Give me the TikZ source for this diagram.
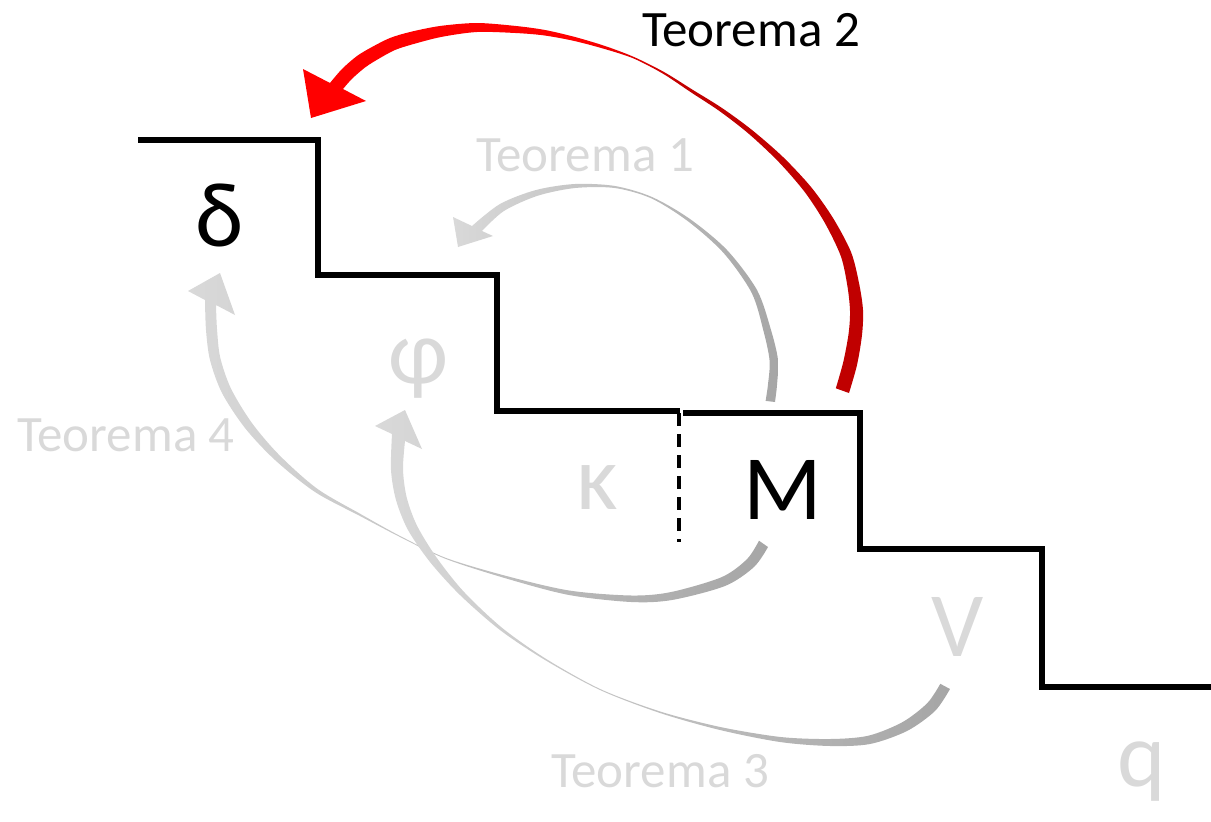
\documentclass[tikz,border=0pt]{standalone}
\usepackage{tikz}
\usepackage{fontspec}
\setmainfont{Carlito}
\definecolor{headred}{HTML}{FF0000}
\definecolor{tailred}{HTML}{C00000}
\definecolor{lightg}{HTML}{D9D9D9}
\definecolor{darkg}{HTML}{A6A6A6}
\pgfdeclarehorizontalshading{redarc}{100bp}{color(0bp)=(headred); color(50bp)=(headred); color(59bp)=(tailred); color(100bp)=(tailred)}
\tikzset{
  tlab/.style={font=\fontsize{51}{51}\selectfont, inner sep=0pt},
  biglet/.style={font=\fontsize{92}{92}\selectfont, inner sep=0pt},
  stair/.style={line width=5.5pt, line join=miter},
  cut/.style={line width=3.5pt, dash pattern=on 13pt off 8pt},
  redshade/.style={shading=redarc},
  grayshade/.style={left color=lightg, right color=darkg},
}
\begin{document}
\begin{tikzpicture}[x=1pt,y=-1pt]
\useasboundingbox (0,0) rectangle (1211,822);

% staircase
\draw[stair] (138,140) -- (318,140) -- (318,275) -- (497,275) -- (497,411) -- (680,411);
\draw[stair] (683,413) -- (860,413) -- (860,549) -- (1042,549) -- (1042,687) -- (1211,687);
\coordinate (cuttop) at (679,413);
\coordinate (cutbot) at (679,542);
\draw[cut] (cuttop) -- (cutbot);

% Teorema 2 (red)
\shade[redshade]
 plot[smooth] coordinates {(330,83) (342,69) (357,56) (372,47) (390,38) (410,32) (440,26) (477,23) (516,26) (545,30) (575,37) (605,46) (634,57) (664,72) (693,90) (722,108) (752,130) (783,157) (811,187) (833,218) (851,252) (859,283) (863,310) (862,335) (857,365) (849,393)}
 -- (835.8,388.3)
 -- plot[smooth] coordinates {(835.8,388.3) (843.3,361.9) (848.6,333.5) (850,310.8) (847.3,285.4) (840.8,256.1) (824.9,223) (804.8,192.1) (778.5,161.7) (748.9,133.9) (719.8,111.3) (691.4,92.6) (663,73.7) (633.4,58.4) (604,48.8) (574,40.9) (544,35.4) (515.3,33) (477,32) (441.5,36.9) (412.9,44.2) (394.8,50.1) (378.5,58.9) (365.3,67.3) (351.9,78.9) (343,89)}
 -- (366,101) -- (311,118) -- (303,69) -- cycle;

% Teorema 1 (gray)
\shade[grayshade]
 plot[smooth] coordinates {(472,226) (500,204) (536,190) (575,184) (615,186) (652,197) (690,219) (727,250) (757,290) (771,330) (778,360) (777,385) (775,402)}
 -- (765.6,400.9)
 -- plot[smooth] coordinates {(765.6,400.9) (768,384.4) (769.6,360.9) (763.8,332.2) (751.7,292.9) (723.7,253.1) (688.3,221.5) (651.4,198.4) (614.7,188) (575.2,188) (537.5,195.8) (503.9,211) (482,231)}
 -- (493,236) -- (458,247) -- (453,217) -- cycle;

% Teorema 4 (gray)
\shade[grayshade]
 plot[smooth] coordinates {(205,300) (206,330) (210,360) (222,393) (245,428) (275,460) (315,492) (360,516) (400,537) (446,559) (508,579) (569,595) (631,602) (672,600) (725,586) (754,567) (768,547)}
 -- (759,540.7)
 -- plot[smooth] coordinates {(759,540.7) (746.9,559.2) (721.5,577.2) (670.7,592.1) (631.3,595.5) (569.8,590.6) (508.7,576.6) (446.4,558.1) (400.4,536.1) (360.9,514.2) (317.2,488.7) (279.4,455.2) (251.7,422.7) (230.9,388.4) (220.2,357.4) (217,329.1) (216,305)}
 -- (235,315) -- (220,273) -- (188,291) -- cycle;

% Teorema 3 (gray)
\shade[grayshade]
 plot[smooth] coordinates {(392,434) (391,470) (396,500) (408,530) (430,562) (460,595) (500,630) (545,660) (600,690) (660,713) (720,730) (780,742) (830,746) (870,744) (907,731) (935,711) (950,689)}
 -- (940.3,683.8)
 -- plot[smooth] coordinates {(940.3,683.8) (927.3,703.1) (902.5,722.1) (868.4,735.7) (830.2,739) (780.7,737) (720.7,727.1) (660.5,711.6) (600.4,689.1) (545.8,658.7) (501.8,627.6) (463.5,591.4) (436.2,557) (416.8,525.2) (406.6,497) (403,469.3) (405,441)}
 -- (422,449) -- (405,410) -- (375,426) -- cycle;

% labels
\node[tlab, text=black] (t2) at (751,30) {Teorema 2};
\node[tlab, text=lightg] (t1) at (585,155) {Teorema 1};
\node[tlab, text=lightg] (t4) at (126,435) {Teorema 4};
\node[tlab, text=lightg] (t3) at (660,771) {Teorema 3};

\node[biglet, text=black] (delta) at (220,215) {δ};
\node[biglet, text=lightg] (phi) at (418,369) {φ};
\node[biglet, text=lightg] (kappa) at (597,488) {κ};
\node[biglet, text=black] (M) at (783,490) {M};
\node[biglet, text=lightg] (V) at (958,627) {V};
\node[biglet, text=lightg] (q) at (1142,772) {q};
\end{tikzpicture}
\end{document}
